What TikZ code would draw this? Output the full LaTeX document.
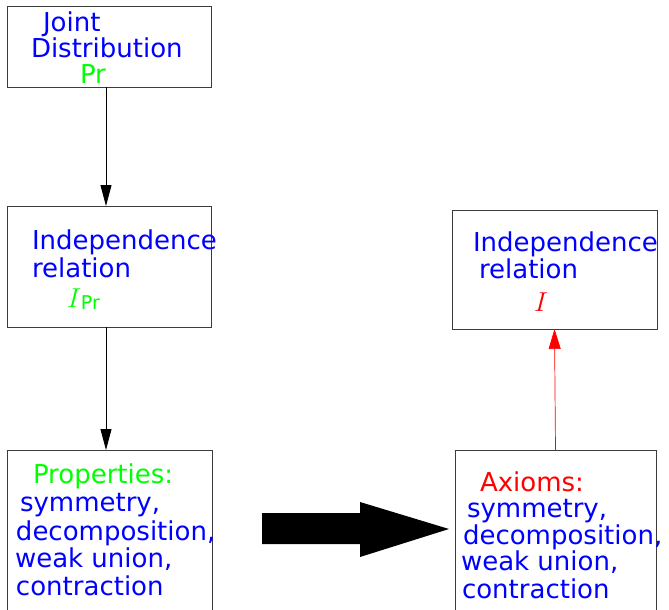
\documentclass[tikz,border=0pt]{standalone}
\usepackage{fontspec}
\setmainfont{DejaVu Sans}
\usetikzlibrary{arrows.meta}
\definecolor{fblue}{RGB}{0,0,255}
\definecolor{fgreen}{RGB}{0,255,0}
\definecolor{fred}{RGB}{255,0,0}
\definecolor{fgray}{RGB}{60,60,60}
\tikzset{
  box/.style={draw=fgray, line width=1pt, inner sep=0pt, outer sep=0pt, anchor=north west, fill=none},
  txt/.style={anchor=base west, inner sep=0pt, outer sep=0pt, font=\fontsize{26}{27}\selectfont},
  arr/.style={draw=black, line width=0.9pt, -{Triangle[length=21pt,width=11pt]}},
  rarr/.style={draw=fred, line width=0.7pt, -{Triangle[length=20pt,width=12pt,fill=fred]}},
}
\newcommand{\bigI}{\scalebox{1.1}{$I$}}
\begin{document}
\begin{tikzpicture}[x=1pt,y=-1pt]
\useasboundingbox (0,0) rectangle (669,610);
\clip (0,0) rectangle (669,610);
% boxes
\node[box, minimum width=204pt, minimum height=80pt] (b1) at (7,7) {};
\node[box, minimum width=204pt, minimum height=121pt] (b2) at (7,206) {};
\node[box, minimum width=205pt, minimum height=170pt] (b3) at (7,450) {};
\node[box, minimum width=205pt, minimum height=119pt] (b4) at (452,210) {};
\node[box, minimum width=201pt, minimum height=170pt] (b5) at (455,450) {};
% texts
\node[txt, text=fblue] (t11) at (43,32) {Joint};
\node[txt, text=fblue] (t12) at (31,57) {Distribution};
\node[txt, text=fgreen] (t13) at (80,83) {Pr};
\node[txt, text=fblue] (t21) at (32,249) {Independence};
\node[txt, text=fblue] (t22) at (32,277) {relation};
\node[txt, text=fgreen] (t23) at (67,307) {\bigI\raisebox{-2pt}{\fontsize{19}{19}\selectfont Pr}};
\node[txt, text=fblue] (t41) at (473,251) {Independence};
\node[txt, text=fblue] (t42) at (479,278) {relation};
\node[txt, text=fred] (t43) at (534,311) {\bigI};
\node[txt, text=fgreen] (t31) at (33,483) {Properties:};
\node[txt, text=fblue] (t32) at (20,511) {symmetry,};
\node[txt, text=fblue] (t33) at (16,540) {decomposition,};
\node[txt, text=fblue] (t34) at (15,567) {weak union,};
\node[txt, text=fblue] (t35) at (16,595) {contraction};
\node[txt, text=fred] (t51) at (480,491) {Axioms:};
\node[txt, text=fblue] (t52) at (467,517) {symmetry,};
\node[txt, text=fblue] (t53) at (463,544) {decomposition,};
\node[txt, text=fblue] (t54) at (461,570) {weak union,};
\node[txt, text=fblue] (t55) at (462,598) {contraction};
% connectors
\coordinate (ax) at (106,0);
\draw[arr] (b1.south -| ax) -- (b2.north -| ax);
\draw[arr] (b2.south -| ax) -- (b3.north -| ax);
\draw[rarr] (b5.north) -- (b4.south);
% big arrow
\fill[black] (262,513) -- (360,513) -- (360,502) -- (449,529) -- (360,557) -- (360,544) -- (262,544) -- cycle;
\end{tikzpicture}
\end{document}
